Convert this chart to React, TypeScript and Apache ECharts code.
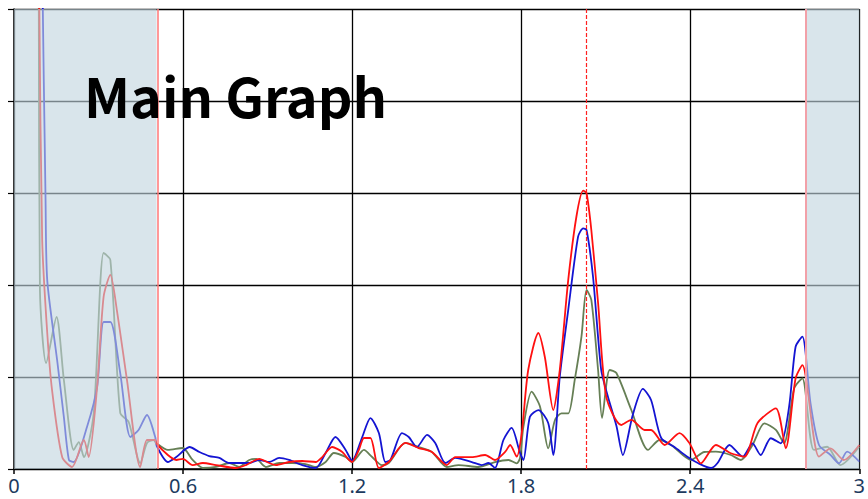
import React, { useEffect, useRef } from "react";
import * as echarts from "echarts";

const xTicks = [0, 0.6, 1.2, 1.8, 2.4, 3];
const tickLabels = ["0", "0.6", "1.2", "1.8", "2.4", "3"];

const blueX = [0.09, 0.1, 0.112, 0.118, 0.153, 0.177, 0.195, 0.212, 0.259, 0.295, 0.318, 0.342, 0.377, 0.413, 0.442, 0.472, 0.501, 0.505, 0.546, 0.576, 0.623, 0.658, 0.693, 0.729, 0.764, 0.799, 0.835, 0.87, 0.906, 0.941, 0.976, 1.023, 1.071, 1.106, 1.141, 1.177, 1.2, 1.236, 1.265, 1.295, 1.318, 1.336, 1.377, 1.401, 1.43, 1.466, 1.495, 1.531, 1.566, 1.625, 1.66, 1.684, 1.707, 1.737, 1.766, 1.796, 1.808, 1.831, 1.861, 1.896, 1.914, 1.937, 1.967, 2.002, 2.02, 2.032, 2.055, 2.084, 2.108, 2.138, 2.161, 2.196, 2.232, 2.261, 2.297, 2.344, 2.391, 2.427, 2.474, 2.497, 2.539, 2.586, 2.621, 2.65, 2.686, 2.721, 2.751, 2.774, 2.798, 2.827, 2.857, 2.898, 2.928, 2.957, 3.0];
const blueY = [8, 5.5, 2.92, 2.05, 1.185, 0.565, 0.098, 0.076, 0.457, 0.891, 1.598, 1.598, 1.043, 0.348, 0.424, 0.587, 0.35, 0.26, 0.076, 0.13, 0.239, 0.185, 0.141, 0.12, 0.065, 0.065, 0.065, 0.098, 0.076, 0.12, 0.098, 0.043, 0.011, 0.174, 0.348, 0.207, 0.09, 0.348, 0.554, 0.391, 0.076, 0.098, 0.391, 0.348, 0.239, 0.37, 0.283, 0.065, 0.12, 0.076, 0.043, 0.065, 0.011, 0.315, 0.446, 0.174, 0.098, 0.568, 0.641, 0.5, 0.152, 1.003, 1.728, 2.525, 2.616, 2.598, 2.09, 1.076, 0.786, 0.47, 0.152, 0.587, 0.87, 0.75, 0.337, 0.239, 0.13, 0.065, 0.011, 0.065, 0.261, 0.134, 0.279, 0.152, 0.334, 0.279, 0.677, 1.329, 1.438, 0.714, 0.261, 0.152, 0.062, 0.188, 0.079];

const redX = [0.08, 0.09, 0.1, 0.118, 0.135, 0.171, 0.206, 0.248, 0.265, 0.295, 0.318, 0.342, 0.365, 0.401, 0.448, 0.472, 0.501, 0.505, 0.546, 0.576, 0.599, 0.634, 0.67, 0.717, 0.788, 0.823, 0.87, 0.906, 0.929, 0.976, 1.023, 1.071, 1.094, 1.129, 1.165, 1.189, 1.2, 1.224, 1.242, 1.265, 1.295, 1.33, 1.389, 1.436, 1.483, 1.536, 1.566, 1.625, 1.672, 1.707, 1.743, 1.761, 1.784, 1.802, 1.825, 1.861, 1.884, 1.914, 1.937, 1.967, 1.996, 2.02, 2.032, 2.049, 2.073, 2.102, 2.155, 2.191, 2.238, 2.261, 2.309, 2.362, 2.397, 2.438, 2.491, 2.544, 2.592, 2.639, 2.704, 2.739, 2.774, 2.798, 2.857, 2.898, 2.945, 3.0];
const redY = [8, 5.0, 2.489, 1.478, 0.859, 0.13, 0.022, 0.315, 0.13, 0.891, 1.87, 2.109, 1.728, 0.967, 0.022, 0.315, 0.315, 0.279, 0.152, 0.098, 0.109, 0.043, 0.065, 0.043, 0.011, 0.043, 0.109, 0.065, 0.043, 0.076, 0.087, 0.076, 0.13, 0.239, 0.185, 0.098, 0.076, 0.207, 0.337, 0.337, 0.011, 0.076, 0.283, 0.228, 0.185, 0.043, 0.13, 0.13, 0.152, 0.098, 0.185, 0.261, 0.134, 0.391, 1.076, 1.478, 1.217, 0.641, 1.076, 2.054, 2.742, 3.025, 2.997, 2.598, 1.804, 0.786, 0.478, 0.533, 0.424, 0.424, 0.261, 0.391, 0.283, 0.062, 0.261, 0.171, 0.134, 0.5, 0.66, 0.225, 0.986, 1.13, 0.134, 0.225, 0.098, 0.261];

const greenX = [0.08, 0.088, 0.092, 0.114, 0.151, 0.177, 0.212, 0.23, 0.248, 0.283, 0.318, 0.342, 0.377, 0.407, 0.448, 0.472, 0.495, 0.505, 0.546, 0.599, 0.634, 0.67, 0.717, 0.764, 0.799, 0.835, 0.859, 0.894, 0.941, 0.988, 1.035, 1.071, 1.106, 1.135, 1.177, 1.2, 1.242, 1.271, 1.306, 1.33, 1.389, 1.436, 1.483, 1.536, 1.578, 1.648, 1.707, 1.755, 1.784, 1.796, 1.808, 1.837, 1.867, 1.896, 1.92, 1.943, 1.967, 1.99, 2.014, 2.032, 2.049, 2.073, 2.087, 2.114, 2.138, 2.191, 2.25, 2.291, 2.332, 2.403, 2.45, 2.491, 2.544, 2.58, 2.621, 2.663, 2.704, 2.733, 2.769, 2.798, 2.839, 2.886, 2.933, 3.0];
const greenY = [8, 5.0, 1.946, 1.152, 1.652, 0.967, 0.207, 0.293, 0.13, 0.609, 2.348, 2.272, 0.609, 0.511, 0.065, 0.283, 0.315, 0.283, 0.207, 0.228, 0.098, 0.011, 0.022, 0.065, 0.022, 0.098, 0.109, 0.022, 0.065, 0.065, 0.054, 0.022, 0.076, 0.174, 0.13, 0.076, 0.207, 0.13, 0.043, 0.065, 0.283, 0.239, 0.185, 0.022, 0.043, 0.022, 0.076, 0.098, 0.062, 0.12, 0.46, 0.84, 0.677, 0.225, 0.533, 0.605, 0.605, 0.967, 1.438, 1.946, 1.837, 1.076, 0.554, 1.076, 1.043, 0.641, 0.207, 0.315, 0.261, 0.098, 0.185, 0.188, 0.152, 0.098, 0.261, 0.497, 0.424, 0.279, 0.877, 0.986, 0.207, 0.242, 0.043, 0.242];

const shadeLeft = [0, 0.506];
const shadeRight = [2.81, 3];
const markerX = 2.031;

const zip = (xs: number[], ys: number[]) => xs.map((x, i) => [x, ys[i]]);

export default function App() {
  const ref = useRef<HTMLDivElement>(null);
  useEffect(() => {
    if (!ref.current) return;
    const chart = echarts.init(ref.current, undefined, { renderer: "svg" });
    const lineSeries = (name: string, xs: number[], ys: number[], color: string) => ({
      name,
      type: "line",
      data: zip(xs, ys),
      showSymbol: false,
      smooth: 0.25,
      z: 2,
      lineStyle: { color, width: 1.8 },
      itemStyle: { color },
    });
    chart.setOption({
      animation: false,
      backgroundColor: "#ffffff",
      title: {
        text: "Main Graph",
        left: 79,
        top: 62,
        z: 30,
        textStyle: {
          fontFamily: "Noto Sans CJK JP",
          fontWeight: "bold",
          fontSize: 54,
          color: "#000000",
        },
      },
      grid: { left: 14, right: 6, top: 9, bottom: 30, containLabel: false },
      xAxis: {
        type: "value",
        min: 0,
        max: 3,
        interval: 0.6,
        axisLine: { show: true, lineStyle: { color: "#000", width: 1.5 } },
        axisTick: { show: true, length: 5, lineStyle: { color: "#000", width: 1.5 } },
        splitLine: { show: true, lineStyle: { color: "#000", width: 1.3 } },
        axisLabel: {
          margin: 6,
          fontSize: 20,
          lineHeight: 20,
          fontFamily: "Noto Sans",
          color: "#1c3a5e",
          formatter: (v: number) => {
            const i = xTicks.findIndex((t) => Math.abs(t - v) < 1e-6);
            return i >= 0 ? tickLabels[i] : "";
          },
        },
      },
      yAxis: {
        type: "value",
        min: 0,
        max: 5,
        interval: 1,
        axisLine: { show: true, lineStyle: { color: "#000", width: 1.5 } },
        axisTick: { show: true, length: 6, lineStyle: { color: "#000", width: 1.2 } },
        splitLine: { show: true, lineStyle: { color: "#000", width: 1.3 } },
        axisLabel: { show: false },
      },
      series: [
        lineSeries("green", greenX, greenY, "#667f55"),
        lineSeries("blue", blueX, blueY, "#1414d2"),
        lineSeries("red", redX, redY, "#ff1010"),
        {
          name: "overlay",
          type: "line",
          data: [],
          z: 10,
          silent: true,
          markArea: {
            silent: true,
            z: 10,
            itemStyle: { color: "rgba(193,213,223,0.62)" },
            data: [
              [{ xAxis: shadeLeft[0] }, { xAxis: shadeLeft[1] }],
              [{ xAxis: shadeRight[0] }, { xAxis: shadeRight[1] }],
            ],
          },
          markLine: {
            silent: true,
            z: 11,
            symbol: ["none", "none"],
            label: { show: false },
            data: [
              { xAxis: shadeLeft[1], lineStyle: { color: "#ff7f7f", width: 1.6, type: "solid" } },
              { xAxis: shadeRight[0], lineStyle: { color: "#f2a0a8", width: 2, type: "solid" } },
              { xAxis: markerX, lineStyle: { color: "#ff2020", width: 1.2, type: [4, 2] } },
            ],
          },
        },
      ],
    });
    return () => chart.dispose();
  }, []);
  return (
    <div
      ref={ref}
      style={{ position: "fixed", left: 0, top: 0, width: 868, height: 499 }}
    />
  );
}
